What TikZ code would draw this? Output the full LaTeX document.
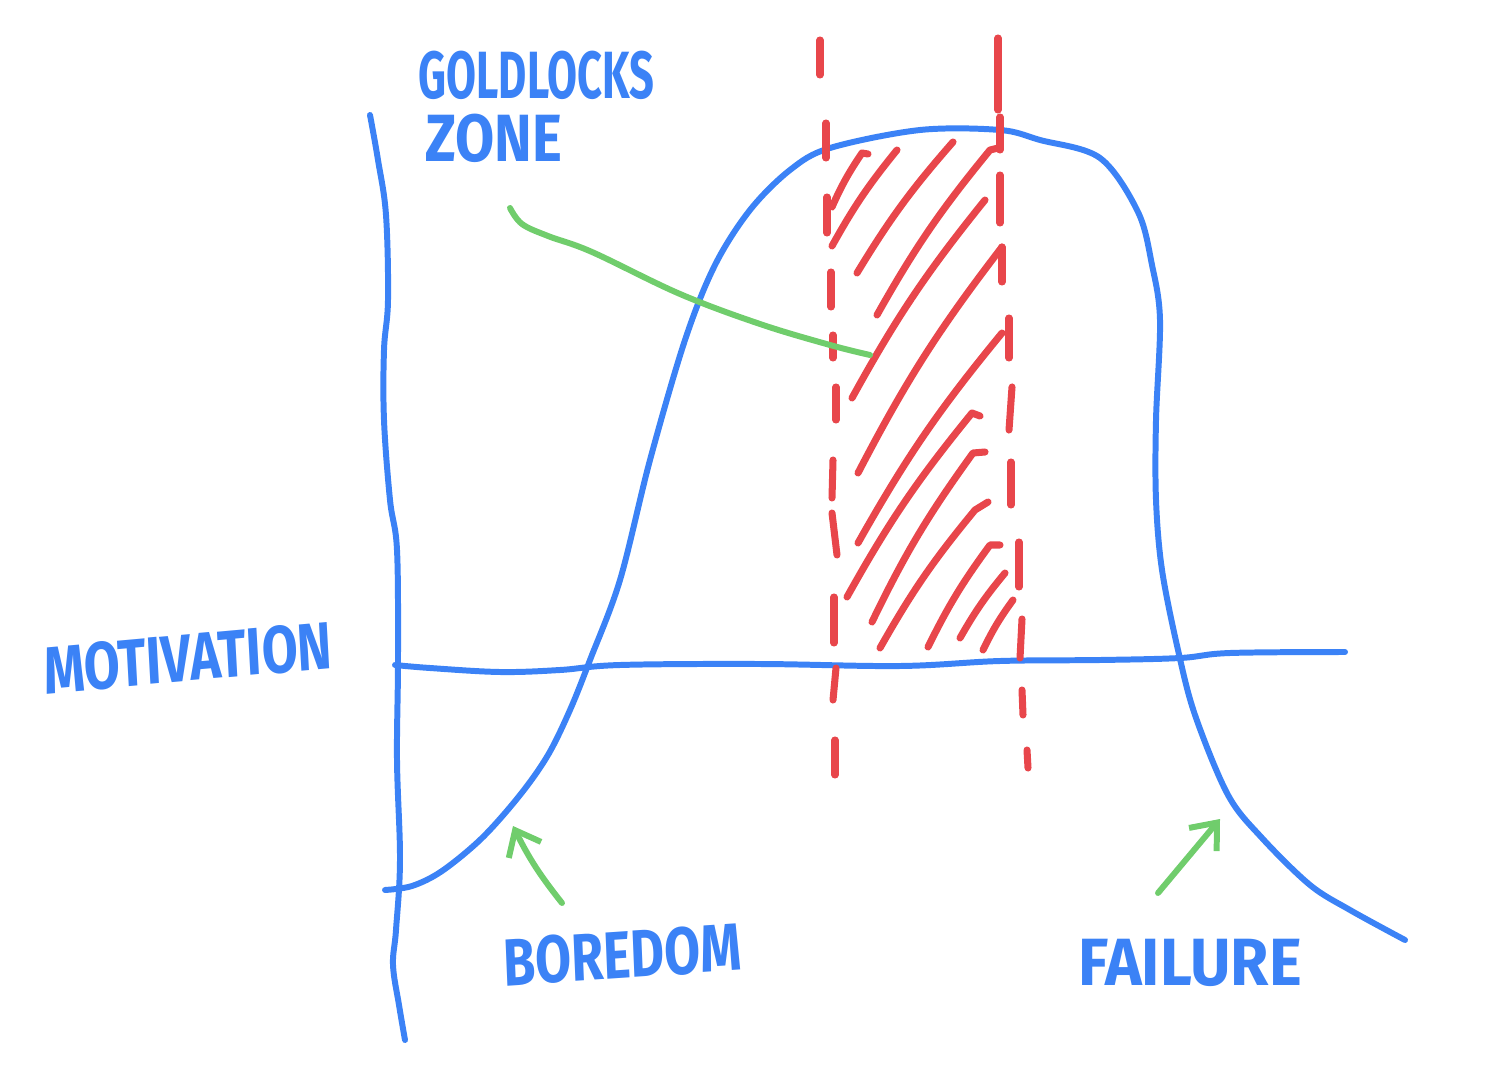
\documentclass[tikz,border=0pt]{standalone}
\usepackage{fontspec}
\setmainfont{Fira Sans}
\usetikzlibrary{arrows.meta}

\definecolor{penblue}{RGB}{59,130,246}
\definecolor{penred}{RGB}{232,70,75}
\definecolor{pengreen}{RGB}{112,205,108}

\begin{document}
\begin{tikzpicture}[x=0.01cm, y=-0.01cm,
      pen/.style={line width=1.7pt, line cap=round, line join=round},
      axis/.style={pen, draw=penblue},
      hatch/.style={pen, line width=2pt, draw=penred},
      pointer/.style={pen, draw=pengreen},
      tip/.style={-{Straight Barb[length=2.2mm, width=3.6mm]}},
      lbl/.style={font=\bfseries\fontsize{19}{23}\selectfont, text=penblue,
                  inner sep=0pt}]

    \useasboundingbox (0,0) rectangle (1494,1076);

    % ===== Axes =====
    \draw[axis] plot[smooth, tension=0.6] coordinates {
        (370,115) (378,160) (386,215) (388,300) (384,350) (384,420)
        (390,500) (397,550) (398,660) (397,760) (400,860) (396,930)
        (393,965) (399,1005) (405,1040)};
    \draw[axis] plot[smooth, tension=0.6] coordinates {
        (395,665) (430,668) (500,672) (560,670) (620,665) (760,664)
        (900,666) (1000,661) (1100,660) (1180,658) (1230,653) (1345,652)};

    % ===== Motivation curve =====
    \draw[axis] plot[smooth, tension=0.55] coordinates {
        (385,890) (412,886) (442,871) (482,838) (520,795) (548,755)
        (570,710) (590,660) (620,580) (650,460) (685,340) (715,265)
        (750,210) (790,170) (830,148) (920,130) (1000,130) (1040,140)
        (1100,158) (1138,212) (1152,265) (1160,320) (1156,420) (1156,500)
        (1162,570) (1178,650) (1195,715) (1228,795) (1262,838) (1310,885)
        (1350,910) (1405,940)};

    % ===== Zone borders =====
    \foreach \xa/\ya/\xb/\yb in {
        820/40/820/75, 826/123/826/158, 827/197/827/233, 831/272/831/307,
        833/335/833/358, 836/387/836/420, 833/460/832/498, 832/513/837/555,
        834/597/834/643, 836/668/833/700, 835/740/835/775,
        998/38/998/110, 1000/117/1000/150, 1000/175/1000/223,
        1002/247/1002/282, 1009/318/1009/358, 1012/387/1009/430,
        1011/462/1011/505, 1019/542/1019/587, 1022/619/1020/658,
        1022/690/1023/715, 1027/750/1028/768} {
        \draw[hatch] (\xa,\ya) -- (\xb,\yb);
    }

    % ===== Hatching =====
    \foreach \xa/\ya/\xb/\yb/\xc/\yc in {
        832/207/862/153/868/154, 832/246/897/150/897/150,
        857/273/953/142/953/142, 877/315/990/150/998/148,
        852/398/985/200/985/200, 858/473/1002/247/1002/247,
        858/543/1002/333/1002/333, 847/597/972/413/980/416,
        872/622/973/453/985/452, 880/648/975/510/988/502,
        928/647/990/545/1000/545, 960/638/1005/573/1005/573,
        983/650/1013/600/1013/600} {
        \draw[hatch] (\xa,\ya) to[bend left=5] (\xb,\yb) -- (\xc,\yc);
    }

    % ===== Labels =====
    \node[lbl, xscale=0.65, anchor=north west] (goldlocks) at (418,50) {GOLDLOCKS};
    \node[lbl, xscale=0.85, anchor=north west] (zone) at (425,113) {ZONE};
    \node[lbl, xscale=0.78, rotate=4] (motivation) at (188,658) {MOTIVATION};
    \node[lbl, xscale=0.78, rotate=3] (boredom) at (622,955) {BOREDOM};
    \node[lbl, xscale=0.93] (failure) at (1190,963) {FAILURE};

    % ===== Pointers =====
    \coordinate (zonetail) at (510,208);
    \coordinate (zonehead) at (870,355);
    \draw[pointer] plot[smooth, tension=0.6] coordinates {
        (zonetail) (522,224) (548,236) (592,252) (680,294) (760,324)
        (830,345) (zonehead)};

    \coordinate (boredtail) at (562,903);
    \coordinate (boredhead) at (513,826);
    \draw[pointer, tip] (boredtail) to[bend left=6] (boredhead);

    \coordinate (failtail) at (1158,893);
    \coordinate (failhead) at (1220,819);
    \draw[pointer, tip] (failtail) -- (failhead);

\end{tikzpicture}
\end{document}
